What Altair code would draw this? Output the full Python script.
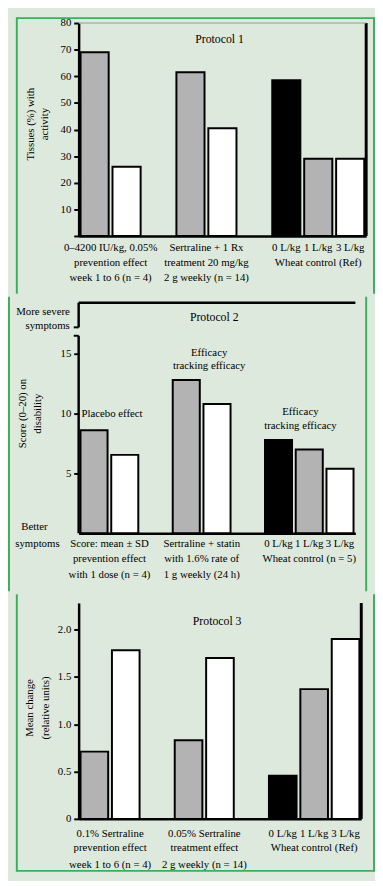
import altair as alt
import pandas as pd

FONT = "Liberation Serif"
BG = "#dde9dc"
FRAME = "#3fae5a"

# ---------------- data ----------------
slots = ["s0", "s1", "s2", "s3", "s4", "s5", "s6", "s7", "s8"]
bar_slots = ["s0", "s1", "s3", "s4", "s6", "s7", "s8"]
bar_kind = ["gray", "white", "gray", "white", "black", "gray", "white"]

p1_values = [69, 26, 61.5, 40.5, 58.5, 29, 29]
p2_values = [8.6, 6.55, 12.8, 10.8, 7.8, 7.0, 5.4]
p3_values = [0.71, 1.78, 0.83, 1.70, 0.455, 1.37, 1.90]

titles = ["Protocol 1", "Protocol 2", "Protocol 3"]

p1_ytitle = ["Tissues (%) with", "activity"]
p2_ytitle = ["Score (0–20) on", "disability"]
p3_ytitle = ["Mean change", "(relative units)"]

p1_ticks = [0, 10, 20, 30, 40, 50, 60, 70, 80]
p2_ticks = [5, 10, 15]
p3_ticks = [0, 0.5, 1.0, 1.5, 2.0]

dose_labels = ["0 L/kg", "1 L/kg", "3 L/kg"]

p1_groups = [
    ["0–4200 IU/kg, 0.05%", "prevention effect", "week 1 to 6 (n = 4)"],
    ["Sertraline + 1 Rx", "treatment 20 mg/kg", "2 g weekly (n = 14)"],
]
p1_group3 = "Wheat control (Ref)"

p2_groups = [
    ["Score: mean ± SD", "prevention effect", "with 1 dose (n = 4)"],
    ["Sertraline + statin", "with 1.6% rate of", "1 g weekly (24 h)"],
]
p2_group3 = "Wheat control (n = 5)"

p3_groups = [
    ["0.1% Sertraline", "prevention effect", "week 1 to 6 (n = 4)"],
    ["0.05% Sertraline", "treatment effect", "2 g weekly (n = 14)"],
]
p3_group3 = "Wheat control (Ref)"

p2_notes_left = "Placebo effect"
p2_notes_mid = ["Efficacy", "tracking efficacy"]
p2_notes_right = ["Efficacy", "tracking efficacy"]
p2_side_top = ["More severe", "symptoms"]
p2_side_bottom = ["Better", "symptoms"]

p2_break = [16.5, 17.2]

one = pd.DataFrame({"a": [0]})


def bar_df(values):
    return pd.DataFrame({"slot": bar_slots, "kind": bar_kind, "value": values})


def txt(x, y, s, size=11, align="center", angle=None, baseline="middle"):
    kw = dict(font=FONT, fontSize=size, color="black", align=align, baseline=baseline)
    if angle is not None:
        kw["angle"] = angle
    return alt.Chart(one).mark_text(**kw).encode(
        x=alt.value(x), y=alt.value(y), text=alt.value(s))


def vrule(x, y, y2, color, width):
    return alt.Chart(one).mark_rule(color=color, strokeWidth=width).encode(
        x=alt.value(x), y=alt.value(y), y2=alt.value(y2))


def hrule(x, x2, y, color, width):
    return alt.Chart(one).mark_rule(color=color, strokeWidth=width).encode(
        x=alt.value(x), x2=alt.value(x2), y=alt.value(y))


def panel(values, ydom, yticks, W, H, title, title_y, ytitle, ytitle_x, ytitle_y,
          groups, group3, label_y, anchor_left, anchor_top, bottom_ext, label_expr,
          custom_axis=False, right_line=False, top_line=None,
          frame_top=False, frame_bottom=False):
    xscale = alt.Scale(domain=slots, paddingInner=0.12, paddingOuter=0.06)
    yscale = alt.Scale(domain=ydom, nice=False, zero=True)
    yaxis = alt.Axis(values=yticks, title=None, grid=False, domain=not custom_axis,
                     domainWidth=2.5, domainColor="black", tickColor="black",
                     tickWidth=2, tickSize=5, labelFont=FONT, labelFontSize=11,
                     labelColor="black", labelPadding=3, labelExpr=label_expr)
    xaxis = alt.Axis(labels=False, ticks=False, title=None, domainWidth=2.5,
                     domainColor="black", grid=False)
    bars = alt.Chart(bar_df(values)).mark_bar(stroke="black", strokeWidth=2).encode(
        x=alt.X("slot:N", scale=xscale, axis=xaxis, sort=slots),
        y=alt.Y("value:Q", scale=yscale, axis=yaxis),
        fill=alt.Fill("kind:N", legend=None,
                      scale=alt.Scale(domain=["black", "gray", "white"],
                                      range=["#000000", "#b3b3b3", "#ffffff"])),
    )
    layers = [bars]

    gdf = pd.DataFrame({"slot": ["s0", "s3"],
                        "l1": [g[0] for g in groups],
                        "l2": [g[1] for g in groups],
                        "l3": [g[2] for g in groups]})
    for i, col in enumerate(["l1", "l2", "l3"]):
        layers.append(alt.Chart(gdf).mark_text(font=FONT, fontSize=11, color="black",
                                               baseline="middle", dx=2).encode(
            x=alt.X("slot:N", scale=xscale, bandPosition=1),
            y=alt.value(H + label_y[i]), text=f"{col}:N"))
    ddf = pd.DataFrame({"slot": ["s6", "s7", "s8"], "lab": dose_labels})
    layers.append(alt.Chart(ddf).mark_text(font=FONT, fontSize=11, color="black",
                                           baseline="middle").encode(
        x=alt.X("slot:N", scale=xscale), y=alt.value(H + label_y[0]), text="lab:N"))
    g3 = pd.DataFrame({"slot": ["s7"], "lab": [group3]})
    layers.append(alt.Chart(g3).mark_text(font=FONT, fontSize=11, color="black",
                                          baseline="middle").encode(
        x=alt.X("slot:N", scale=xscale), y=alt.value(H + label_y[1]), text="lab:N"))

    layers.append(txt(W * 0.49, title_y, title, size=12))
    for i, line in enumerate(ytitle):
        layers.append(txt(ytitle_x[i], ytitle_y, line, size=11, angle=270))

    if right_line:
        layers.append(vrule(W, 0, H, "black", 3))
    if top_line is not None:
        layers.append(hrule(0, W, 0, top_line[0], top_line[1]))

    # green frame of the figure box
    bottom = H + bottom_ext
    left = anchor_left + 1
    right = anchor_left + 365
    layers.append(vrule(left, anchor_top, bottom, FRAME, 2))
    layers.append(vrule(right, anchor_top, bottom, FRAME, 2))
    if frame_top:
        layers.append(hrule(left, right, anchor_top + 1, FRAME, 2))
    if frame_bottom:
        layers.append(hrule(left, right, bottom - 1, FRAME, 2))

    # invisible anchor that fixes the panel's bounds
    layers.append(alt.Chart(one).mark_rule(opacity=0, strokeWidth=1).encode(
        x=alt.value(anchor_left), y=alt.value(anchor_top), y2=alt.value(bottom)))
    return layers, yscale


# ---------------- panel 1 ----------------
W1, H1 = 293, 217
l1, _ = panel(p1_values, [0, 80], p1_ticks, W1, H1, titles[0], 16, p1_ytitle,
              [-49, -34], 103, p1_groups, p1_group3, [12, 28, 43], -64, -6, 59,
              "datum.value == 0 ? '' : datum.label", right_line=True,
              top_line=("#9a9a9a", 1), frame_top=True)
c1 = alt.layer(*l1).properties(width=W1, height=H1)

# ---------------- panel 2 ----------------
W2, H2 = 282, 235
D2 = 19.26
l2, ys2 = panel(p2_values, [0, D2], p2_ticks, W2, H2, titles[1], 15, p2_ytitle,
                [-57, -41], 113, p2_groups, p2_group3, [11, 26, 43], -72, -6, 59,
                "datum.label", custom_axis=True, top_line=("black", 2.5))
l2.append(alt.Chart(one).mark_rule(color="black", strokeWidth=2.5).encode(
    x=alt.value(0), y=alt.datum(0, scale=ys2), y2=alt.datum(p2_break[0])))
l2.append(alt.Chart(one).mark_rule(color="black", strokeWidth=2.5).encode(
    x=alt.value(0), y=alt.datum(p2_break[1]), y2=alt.datum(D2)))
for b in p2_break:
    l2.append(alt.Chart(one).mark_rule(color="black", strokeWidth=2).encode(
        x=alt.value(-5), x2=alt.value(0), y=alt.datum(b)))
l2.append(txt(34, 113, p2_notes_left))
l2.append(txt(133, 51, p2_notes_mid[0]))
l2.append(txt(133, 65, p2_notes_mid[1]))
l2.append(txt(226, 111, p2_notes_right[0]))
l2.append(txt(226, 126, p2_notes_right[1]))
l2.append(txt(-9, 10, p2_side_top[0], align="right"))
l2.append(txt(-9, 24, p2_side_top[1], align="right"))
l2.append(txt(-45, H2 - 6, p2_side_bottom[0]))
l2.append(txt(-42, H2 + 11, p2_side_bottom[1]))
c2 = alt.layer(*l2).properties(width=W2, height=H2)

# ---------------- panel 3 ----------------
W3, H3 = 288, 220
l3, _ = panel(p3_values, [0, 2.28], p3_ticks, W3, H3, titles[2], 18, p3_ytitle,
              [-50, -33], 107, p3_groups, p3_group3, [15, 30, 47], -64, -9, 54,
              "datum.value == 0 ? '0' : format(datum.value, '.1f')", right_line=True,
              frame_bottom=True)
c3 = alt.layer(*l3).properties(width=W3, height=H3)

chart = alt.vconcat(c1, c2, c3, spacing=1).properties(
    padding={"left": 0, "top": 0, "right": 0, "bottom": 0}
).configure(background=BG).configure_view(stroke=None)

chart.save("out.html", embed_options={"renderer": "svg", "actions": False})
